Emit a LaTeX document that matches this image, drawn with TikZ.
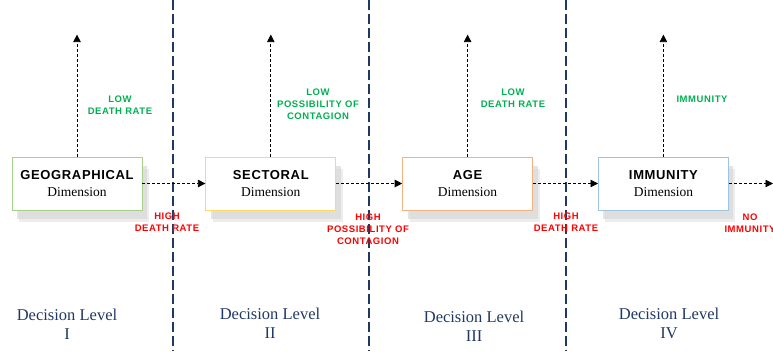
\documentclass[tikz,border=0pt]{standalone}
\usepackage{fontspec}
\setmainfont{Liberation Serif}
\newfontfamily\titlefont[LetterSpace=5]{Liberation Sans}
\newfontfamily\tagfont[LetterSpace=6]{Liberation Sans}
\usetikzlibrary{arrows.meta, positioning, shadows}
\definecolor{lvlnavy}{HTML}{1F3864}
\definecolor{lowgreen}{HTML}{00B050}
\definecolor{highred}{HTML}{FF0000}
\definecolor{geoedge}{HTML}{A9D18E}
\definecolor{sectedge}{HTML}{FFD966}
\definecolor{ageedge}{HTML}{F4B183}
\definecolor{immedge}{HTML}{9DC3E6}
\newcommand{\dimlabel}[1]{{\titlefont\bfseries\fontsize{13}{17}\selectfont #1}\\Dimension}
\tikzset{
    dimbox/.style={rectangle, draw, fill=white, line width=0.8pt, minimum width=130pt, minimum height=53pt, align=center,
        font=\fontsize{13.5}{17}\selectfont,
        drop shadow={shadow xshift=7pt, shadow yshift=-12pt, fill=black!10, opacity=0.7},
        drop shadow={shadow xshift=5pt, shadow yshift=-9pt, fill=black!15, opacity=0.7}},
    geobox/.style={dimbox, draw=geoedge},
    sectbox/.style={dimbox, draw=sectedge},
    agebox/.style={dimbox, draw=ageedge},
    immbox/.style={dimbox, draw=immedge},
    flow/.style={-{Triangle[length=7.5pt, width=7.5pt]}, line width=0.8pt, dash pattern=on 3pt off 2pt},
    divider/.style={draw=lvlnavy, line width=1.3pt, dash pattern=on 10pt off 4pt},
    lowtag/.style={align=center, text=lowgreen, font=\tagfont\bfseries\fontsize{9.5}{12}\selectfont},
    hightag/.style={lowtag, text=highred},
    leveltext/.style={align=center, text=lvlnavy, font=\fontsize{16.5}{19}\selectfont}
}

\begin{document}
\begin{tikzpicture}[x=1pt, y=-1pt]
    \useasboundingbox (0,0) rectangle (773,351);

    % level dividers
    \coordinate (cutonetop) at (173,0);
    \coordinate (cutonebot) at (173,351);
    \coordinate (cuttwotop) at (369,0);
    \coordinate (cuttwobot) at (369,351);
    \coordinate (cutthreetop) at (566,0);
    \coordinate (cutthreebot) at (566,351);
    \draw[divider] (cutonetop) -- (cutonebot);
    \draw[divider] (cuttwotop) -- (cuttwobot);
    \draw[divider] (cutthreetop) -- (cutthreebot);

    % dimension boxes
    \node[geobox] (geo) at (77,183.5) {\dimlabel{GEOGRAPHICAL}};
    \node[sectbox, right=63pt of geo] (sect) {\dimlabel{SECTORAL}};
    \node[agebox, right=66pt of sect] (age) {\dimlabel{AGE}};
    \node[immbox, right=65pt of age] (imm) {\dimlabel{IMMUNITY}};

    \coordinate[above=122pt of geo.north] (geotop);
    \coordinate[above=122pt of sect.north] (secttop);
    \coordinate[above=122pt of age.north] (agetop);
    \coordinate[above=122pt of imm.north] (immtop);
    \coordinate (exit) at (773,183.5);

    \draw[flow] (geo) -- (geotop);
    \draw[flow] (sect) -- (secttop);
    \draw[flow] (age) -- (agetop);
    \draw[flow] (imm) -- (immtop);
    \draw[flow] (geo) -- (sect);
    \draw[flow] (sect) -- (age);
    \draw[flow] (age) -- (imm);
    \draw[flow] (imm) -- (exit);

    % outcomes
    \node[lowtag] (geolow) at (120,105) {LOW\\DEATH RATE};
    \node[lowtag] (sectlow) at (318,104) {LOW\\POSSIBILITY OF\\CONTAGION};
    \node[lowtag] (agelow) at (513,98) {LOW\\DEATH RATE};
    \node[lowtag] (immlow) at (702,99) {IMMUNITY};
    \node[hightag] (geohigh) at (167,222.5) {HIGH\\DEATH RATE};
    \node[hightag] (secthigh) at (368,229) {HIGH\\POSSIBILITY OF\\CONTAGION};
    \node[hightag] (agehigh) at (566,222) {HIGH\\DEATH RATE};
    \node[hightag] (immhigh) at (750,223.5) {NO\\IMMUNITY};

    % decision levels
    \node[leveltext] (lvlone) at (67,324.5) {Decision Level\\I};
    \node[leveltext] (lvltwo) at (270,323.5) {Decision Level\\II};
    \node[leveltext] (lvlthree) at (474,326) {Decision Level\\III};
    \node[leveltext] (lvlfour) at (669,323.5) {Decision Level\\IV};
\end{tikzpicture}
\end{document}
